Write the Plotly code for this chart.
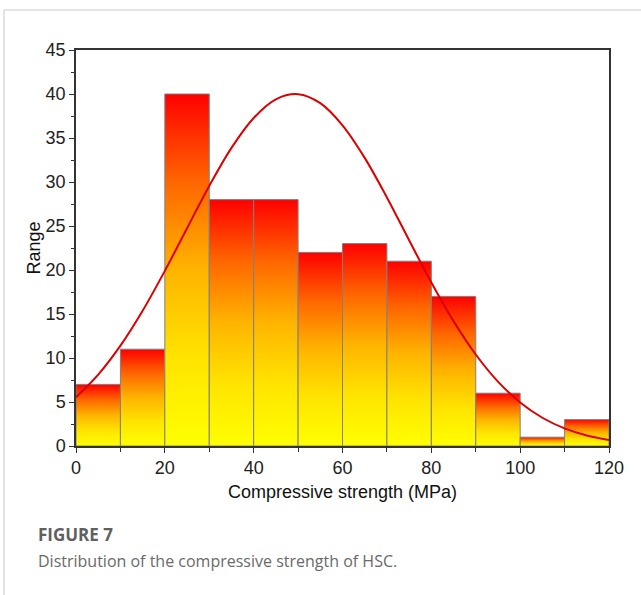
import plotly.graph_objects as go

# Histogram data (bin width 10 MPa)
bin_edges = [0, 10, 20, 30, 40, 50, 60, 70, 80, 90, 100, 110, 120]
counts = [7, 11, 40, 28, 28, 22, 23, 21, 17, 6, 1, 3]

# Fitted normal curve
curve_x = [0, 5, 10, 15, 20, 25, 30, 35, 40, 45, 50, 55, 60, 65, 70, 75, 80,
           85, 90, 95, 100, 105, 110, 115, 120]
curve_y = [5.54, 8.11, 11.40, 15.37, 19.90, 24.75, 29.55, 33.88, 37.28, 39.40,
           39.98, 38.96, 36.44, 32.74, 28.24, 23.38, 18.59, 14.19, 10.40, 7.32,
           4.95, 3.21, 2.00, 1.20, 0.69]

x_ticks = [0, 20, 40, 60, 80, 100, 120]
y_ticks = [0, 5, 10, 15, 20, 25, 30, 35, 40, 45]

grad = [[0, "#FFFF00"], [0.25, "#FFE400"], [0.5, "#FFB400"], [0.75, "#FF6600"], [1, "#FF0000"]]

fig = go.Figure()

for i, c in enumerate(counts):
    x0, x1 = bin_edges[i], bin_edges[i + 1]
    fig.add_trace(go.Scatter(
        x=[x0, x0, x1, x1, x0], y=[0, c, c, 0, 0],
        mode="lines", fill="toself",
        line=dict(color="#808080", width=1),
        fillgradient=dict(type="vertical", colorscale=grad, start=0, stop=c),
        showlegend=False, hoverinfo="skip"))

fig.add_trace(go.Scatter(x=curve_x, y=curve_y, mode="lines",
                         line=dict(color="#DD0000", width=2, shape="spline"),
                         showlegend=False, hoverinfo="skip"))

sans = "Liberation Sans, Arial, sans-serif"
axis_font = dict(family=sans, size=18, color="#222")
title_font = dict(family=sans, size=18, color="#111")
fig.update_xaxes(range=[0, 120], tickvals=x_ticks, ticks="outside", ticklen=5,
                 tickwidth=1.2, tickcolor="#333", showline=True, linecolor="#333",
                 linewidth=1.5, mirror=True, showgrid=False, zeroline=False,
                 tickfont=axis_font,
                 minor=dict(dtick=10, ticks="outside", ticklen=4, tickcolor="#333"),
                 title=dict(text="Compressive strength (MPa)", font=title_font, standoff=8))
fig.update_yaxes(range=[0, 45], tickvals=y_ticks, ticks="outside", ticklen=5,
                 tickwidth=1.2, tickcolor="#333", showline=True, linecolor="#333",
                 linewidth=1.5, mirror=True, showgrid=False, zeroline=False,
                 tickfont=axis_font,
                 minor=dict(dtick=2.5, ticks="outside", ticklen=3, tickcolor="#333"),
                 title=dict(text="Range", font=title_font, standoff=0))

W, H = 641, 595
L, R, T, B = 76, 32, 50, 149
pw, ph = W - L - R, H - T - B

def px(xp):
    return (xp - L) / pw

def py(yp):
    return (H - B - yp) / ph

fig.update_layout(
    width=W, height=H, margin=dict(l=L, r=R, t=T, b=B),
    paper_bgcolor="white", plot_bgcolor="white",
    shapes=[
        dict(type="line", xref="paper", yref="paper", x0=px(4), x1=px(641),
             y0=py(10), y1=py(10), line=dict(color="#c8c8c8", width=1)),
        dict(type="line", xref="paper", yref="paper", x0=px(4), x1=px(4),
             y0=py(10), y1=py(595), line=dict(color="#c8c8c8", width=1)),
    ],
    annotations=[
        dict(text="<b>FIGURE 7</b>", xref="paper", yref="paper", x=px(36), y=py(534),
             xanchor="left", yanchor="middle", showarrow=False,
             font=dict(family="Open Sans, sans-serif", size=17, color="#606060")),
        dict(text="Distribution of the compressive strength of HSC.", xref="paper", yref="paper",
             x=px(36), y=py(561), xanchor="left", yanchor="middle", showarrow=False,
             font=dict(family="Open Sans, sans-serif", size=16, color="#6a6a6a")),
    ],
)

fig.write_html("out.html")
